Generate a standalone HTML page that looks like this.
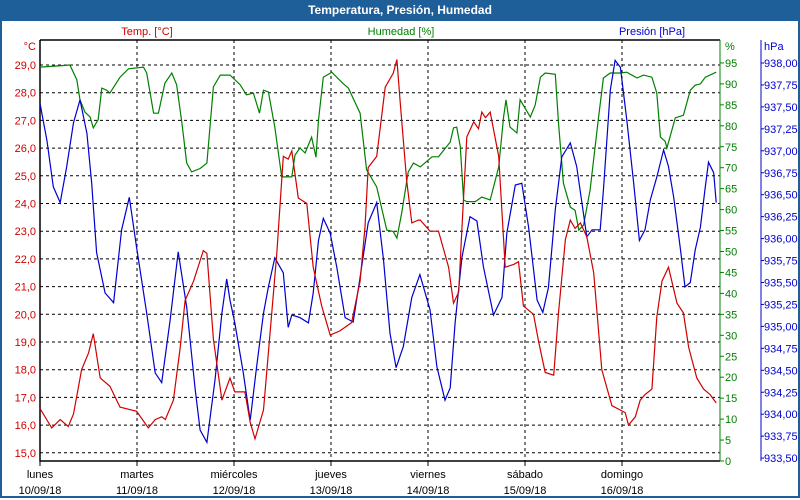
<!DOCTYPE html>
<html><head><meta charset="utf-8"><style>
body{margin:0;width:800px;height:500px;overflow:hidden;background:#fff;font-family:"Liberation Sans",sans-serif}
#frame{position:absolute;left:0;top:0;width:796px;height:496px;border:2px solid #1f5f99;border-top:none}
#title{position:absolute;left:0;top:0;width:800px;height:21px;background:#1f5f99;color:#fff;font-weight:bold;font-size:12px;line-height:21px;text-align:center}
svg{position:absolute;left:0;top:0}
</style></head><body>
<div id="frame"></div>
<div id="title">Temperatura, Presión, Humedad</div>
<svg id="c" width="800" height="500"></svg>
<script>
const dayNames=["lunes","martes","miércoles","jueves","viernes","sábado","domingo"];
const dayDates=["10/09/18","11/09/18","12/09/18","13/09/18","14/09/18","15/09/18","16/09/18"];
const tempTicks=[15,16,17,18,19,20,21,22,23,24,25,26,27,28,29];
const humTicks=[0,5,10,15,20,25,30,35,40,45,50,55,60,65,70,75,80,85,90,95];
const presTicks=[933.5,933.75,934,934.25,934.5,934.75,935,935.25,935.5,935.75,936,936.25,936.5,936.75,937,937.25,937.5,937.75,938];
const tempHours=[0,2.9,5,7,8.3,10.3,12,13.2,14.9,17.3,19.8,23.9,26.8,28.5,30.1,31,33,34.7,35.9,38,40.4,41.3,42.9,45,47,48.2,50.7,52,53.2,55.3,56.9,58.6,60.2,61.4,62.3,63.9,66,67.6,69.7,71.8,74.2,77.1,79.2,80.4,81.2,83.3,85.4,87.4,88.3,89.1,90.7,92,93.6,94.1,96.5,98.6,101.1,102.3,103.6,104.4,105.6,107.3,108.5,109.3,110.2,111.4,113.5,115.1,117.2,118.4,119.6,122.1,123.4,125,127.1,128.3,130,131.2,132.4,133.7,135.3,137,139,141.5,143.5,144.8,145.6,147.3,148.5,149.7,151.4,152.6,153.9,155.5,157.6,159.2,160.5,162.5,164.2,165.8,167.3];
const tempValues=[16.6,15.9,16.2,15.95,16.4,18.0,18.6,19.3,17.7,17.4,16.65,16.5,15.9,16.2,16.3,16.2,16.9,18.8,20.5,21.2,22.3,22.2,19.1,16.9,17.7,17.2,17.2,16.1,15.5,16.55,19.3,22.2,25.7,25.6,25.9,24.2,24.0,21.7,20.3,19.25,19.4,19.7,21.2,23.15,25.3,25.7,28.2,28.7,29.2,27.7,24.85,23.3,23.4,23.4,23.0,23.0,21.7,20.4,20.8,23.15,26.4,26.95,26.7,27.3,27.1,27.3,25.7,21.7,21.8,21.9,20.3,20.0,19.0,17.9,17.8,20.05,22.7,23.4,23.1,23.3,22.8,21.5,18.0,16.7,16.55,16.45,16.0,16.3,16.9,17.1,17.3,19.9,21.2,21.7,20.4,20.05,18.8,17.7,17.3,17.1,16.8];
const humHours=[0,4.5,7.4,9.1,9.9,11.1,12.4,13.2,14.4,15.3,16.5,17.3,19.8,21.9,25.6,26.4,28.1,29.3,30.9,32.6,33.8,35.1,36.3,37.5,39.6,41.3,42.9,44.6,47,49.5,51.1,52.8,54.3,55.3,56.5,58.1,59.8,62.3,63.1,64.3,65.6,67.2,68.3,68.9,70.1,72.2,75.1,76.3,79.2,80.8,83.3,85.8,87.4,88.3,89.5,91.1,92.4,94.1,97,98.6,101.5,102.3,103.1,104,104.8,105.6,107.7,109.3,111.4,113.5,114.7,115.3,116.3,118,118.8,121.3,122.5,123.8,125,127.5,128.3,129.5,131.2,132.4,133.3,134.5,136.1,138.2,139.4,141.1,143.6,145.2,147.7,149.3,151.4,152.6,153.5,154.7,155.1,157.2,159.2,160.9,162.1,163.4,164.6,167.3];
const humValues=[94.0,94.3,94.5,91,86.2,83.3,82.1,79.5,81.5,89,88.5,87.8,91.6,93.6,94,92.6,83,83,90.2,92.6,89.8,80.7,71.1,69,69.8,71.1,89.3,92.1,92.1,89.8,87.4,87.8,83,88.5,88.1,79.7,67.8,67.8,73,74.7,73.5,77.3,72.5,81.4,91.6,92.8,90,89,83,69.5,65.4,55.1,54.8,53.2,59.2,69,71.1,70.2,72.6,72.6,76.1,79.5,79.7,75,62.3,61.9,61.9,63,62.3,70.2,82.1,86.2,79.7,78.3,86.2,82.1,84.9,91.6,92.6,92.3,80.7,66.3,60.6,59.8,55.1,56.3,64.7,82.1,91.4,92.6,92.6,92.8,91.4,92.1,91.6,87.8,77.3,76.3,74.7,81.9,82.5,88.5,89.7,90,91.6,92.8];
const presHours=[0,1.7,3.3,5,6.6,8.3,9.9,11.6,12.8,14,16.1,18.2,20.2,22.1,23.9,26.4,28.5,30.1,32.2,34.2,36.3,38.4,39.6,41.3,43.3,45,46.2,47,48.2,50.3,52,53.6,55.3,56.5,58.1,60.2,61.4,62.3,64.3,66.4,67.6,68.9,70.1,71.8,73.4,75.5,77.5,79.2,81.2,83.3,85,86.6,88.1,89.9,92,94,96.5,98.2,100.2,101.5,102.7,104.4,106.4,108.1,109.7,112.2,114.3,115.5,117.6,119.2,120.9,123,124.4,125.8,127.5,129.1,131.2,132.8,135.3,136.6,138.6,139.4,141.1,142.3,143.6,145.2,146.9,148.3,149.7,151,152.6,154.3,155.5,156.8,158.4,159.6,160.9,162.1,163.4,164.6,165.4,166.7,167.3];
const presValues=[937.54,937.12,936.59,936.41,936.82,937.32,937.58,937.2,936.63,935.84,935.38,935.27,936.1,936.47,935.9,935.15,934.47,934.36,935.07,935.85,935.22,934.28,933.82,933.68,934.39,935.15,935.54,935.3,935.04,934.47,933.93,934.54,935.15,935.45,935.78,935.61,934.99,935.13,935.1,935.04,935.38,935.98,936.23,936.06,935.68,935.1,935.05,935.56,936.18,936.41,935.76,934.92,934.53,934.77,935.33,935.59,935.19,934.54,934.16,934.3,935.04,935.79,936.25,936.2,935.68,935.13,935.33,936.06,936.61,936.63,936.13,935.3,935.16,935.44,936.33,936.93,937.09,936.82,936.02,936.1,936.1,936.55,937.69,938.03,937.95,937.35,936.63,935.98,936.1,936.44,936.7,937.01,936.82,936.47,935.9,935.45,935.5,935.87,936.13,936.59,936.87,936.75,936.41];

const svg=document.getElementById('c');const NS='http://www.w3.org/2000/svg';
const L=40,R=719,T=40,B=461;
const xH=h=>L+h*(R-L)/168;
const yT=v=>65+(29-v)*27.7;
const yH=v=>461-v*4.19;
const yP=v=>63+(938-v)*87.8;
function el(tag,attrs,txt){const e=document.createElementNS(NS,tag);for(const k in attrs)e.setAttribute(k,attrs[k]);if(txt!==undefined)e.textContent=txt;svg.appendChild(e);return e;}
function txt(x,y,s,color,anchor){const e=el('text',{x:x,y:y,fill:color,'font-size':11,'text-anchor':anchor,'font-family':'Liberation Sans, sans-serif'},s);return e;}
// grid
tempTicks.forEach(v=>{const e=el('line',{x1:L,x2:720,y1:yT(v),y2:yT(v),stroke:'#000','stroke-dasharray':'3,3'});

});
dayNames.forEach((d,i)=>{if(i>0){const e=el('line',{x1:xH(i*24),x2:xH(i*24),y1:T,y2:B,stroke:'#000','stroke-dasharray':'3,3'});

}
const tk=el('line',{x1:xH(i*24),x2:xH(i*24),y1:B,y2:B+5,stroke:'#000'});


const a=txt(xH(i*24),478,d,'#000','middle');


const b=txt(xH(i*24),494,dayDates[i],'#000','middle');

});
// frame
const fr=el('path',{d:`M${L} ${T}H720 M${L} ${T}V${B}H720`,stroke:'#000',fill:'none','stroke-width':1.5});


// left temp axis
tempTicks.forEach(v=>{const e=txt(36,yT(v)+4,v.toFixed(1).replace('.',','),'#d00000','end');

});
let t1=txt(36,50,'°C','#d00000','end');
// hum axis
const ha=el('line',{x1:720,x2:720,y1:T,y2:B,stroke:'#008000'});


humTicks.forEach(v=>{const k=el('line',{x1:720,x2:724,y1:yH(v),y2:yH(v),stroke:'#008000'});


const e=txt(725,yH(v)+4,String(v),'#008000','start');

});
let t2=txt(725,50,'%','#008000','start');
// pres axis
const pa=el('line',{x1:761,x2:761,y1:T,y2:B,stroke:'#0000d0'});


presTicks.forEach(v=>{const k=el('line',{x1:761,x2:764,y1:yP(v),y2:yP(v),stroke:'#0000d0'});


const e=txt(764,yP(v)+4,v.toFixed(2).replace('.',','),'#0000d0','start');

});
let t3=txt(764,50,'hPa','#0000d0','start');
// series titles
let s1=txt(147,35,'Temp. [°C]','#d00000','middle');
let s2=txt(401,35,'Humedad [%]','#008000','middle');
let s3=txt(652,35,'Presión [hPa]','#0000d0','middle');
// lines
function line(hs,vs,yf,color,name){const d=hs.map((h,i)=>(i?'L':'M')+xH(h).toFixed(1)+' '+yf(vs[i]).toFixed(1)).join('');
const p=el('path',{d:d,stroke:color,fill:'none','stroke-width':1.2});

}
line(humHours,humValues,yH,'#008000','humidity-line');
line(presHours,presValues,yP,'#0000d0','pressure-line');
line(tempHours,tempValues,yT,'#d00000','temperature-line');
</script>
</body></html>
